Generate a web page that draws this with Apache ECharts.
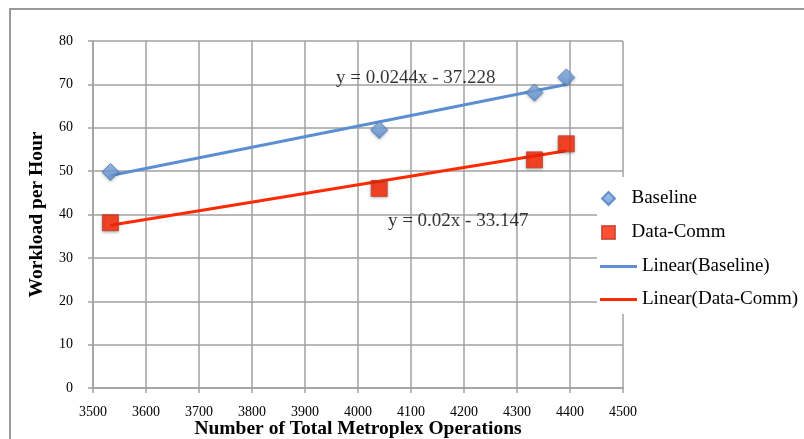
<!DOCTYPE html>
<html>
<head>
<meta charset="utf-8">
<script src="https://cdn.jsdelivr.net/npm/echarts@6/dist/echarts.min.js"></script>
<style>
html,body{margin:0;padding:0;background:#fff;}
#main{width:804px;height:439px;}
</style>
</head>
<body>
<div id="main"></div>
<script>
// ---- data ----
const seriesNames = ['Baseline', 'Data-Comm'];
const trendNames = ['Linear(Baseline)', 'Linear(Data-Comm)'];
const operations = [3533, 4040, 4333, 4393];
const baselineWorkload = [49.8, 59.5, 68.1, 71.6];
const dataCommWorkload = [38.1, 46.0, 52.6, 56.3];
// trendline coefficients as printed on the chart
const trendSlopes = [0.0244, 0.02];
const trendIntercepts = [-37.228, -33.147];
const trendLabels = ['y = 0.0244x - 37.228', 'y = 0.02x - 33.147'];
const trendLabelAnchors = [[4109, 71.4], [4189, 38.6]];
const xTicks = {min: 3500, max: 4500, interval: 100};
const yTicks = {min: 0, max: 80, interval: 10};

const FONT = '"Liberation Serif", "Times New Roman", serif';
const blue = '#5b8fd2';
const red = '#ff2a00';

function pairs(xs, ys) { return xs.map((x, i) => [x, ys[i]]); }
function trendData(k) {
  const xmin = Math.min(...operations), xmax = Math.max(...operations);
  return [xmin, xmax].map(x => [x, trendSlopes[k] * x + trendIntercepts[k]]);
}

const chart = echarts.init(document.getElementById('main'), null, {renderer: 'canvas'});
chart.setOption({
  backgroundColor: '#fff',
  animation: false,
  textStyle: {fontFamily: FONT},
  graphic: [
    {type: 'rect', z: -10, shape: {x: 10, y: 9, width: 900, height: 500},
     style: {fill: 'none', stroke: '#9a9a9a', lineWidth: 2}},
    {type: 'rect', z: 3, shape: {x: 597, y: 177, width: 207, height: 137},
     style: {fill: '#fff'}}
  ],
  grid: {left: 93, right: 181, top: 41, bottom: 51, containLabel: false, outerBoundsMode: 'none'},
  xAxis: {
    type: 'value', min: xTicks.min, max: xTicks.max, interval: xTicks.interval,
    name: 'Number of Total Metroplex Operations', nameLocation: 'middle', nameGap: 31,
    nameMoveOverlap: false,
    nameTextStyle: {fontFamily: FONT, fontWeight: 'bold', fontSize: 19.5, color: '#000'},
    axisLine: {show: true, lineStyle: {color: '#a0a0a0', width: 1.5}},
    axisTick: {show: true, length: 5, lineStyle: {color: '#a0a0a0', width: 1.5}},
    axisLabel: {fontFamily: FONT, fontSize: 14, color: '#000', margin: 17,
                formatter: v => String(v)},
    splitLine: {show: true, lineStyle: {color: '#a0a0a0', width: 1.5}}
  },
  yAxis: {
    type: 'value', min: yTicks.min, max: yTicks.max, interval: yTicks.interval,
    name: 'Workload per Hour', nameLocation: 'middle', nameGap: 46,
    nameMoveOverlap: false,
    nameTextStyle: {fontFamily: FONT, fontWeight: 'bold', fontSize: 19.5, color: '#000'},
    axisLine: {show: true, lineStyle: {color: '#a0a0a0', width: 1.5}},
    axisTick: {show: true, length: 5, lineStyle: {color: '#a0a0a0', width: 1.5}},
    axisLabel: {fontFamily: FONT, fontSize: 14, color: '#000', margin: 20},
    splitLine: {show: true, lineStyle: {color: '#a0a0a0', width: 1.5}}
  },
  legend: [
    {
      orient: 'vertical', left: 601, top: 189, padding: 0, itemGap: 15,
      itemWidth: 36, itemHeight: 13, z: 5,
      textStyle: {fontFamily: FONT, fontSize: 19, color: '#000'},
      data: [
        {name: seriesNames[0], icon: 'path://M0,-1L1,0L0,1L-1,0Z'},
        {name: seriesNames[1], icon: 'path://M0,0H1V1H0Z'}
      ]
    },
    {
      orient: 'vertical', left: 600, top: 257, padding: 0, itemGap: 14,
      itemWidth: 37, itemHeight: 3, z: 5,
      textStyle: {fontFamily: FONT, fontSize: 19, color: '#000'},
      data: trendNames.map(n => ({name: n, icon: 'rect'}))
    }
  ],
  series: [
    {
      name: trendNames[0], type: 'line', data: trendData(0), symbol: 'none', z: 2,
      lineStyle: {color: blue, width: 3}, itemStyle: {color: blue}
    },
    {
      name: trendNames[1], type: 'line', data: trendData(1), symbol: 'none', z: 2,
      lineStyle: {color: red, width: 3}, itemStyle: {color: red}
    },
    {
      name: seriesNames[0], type: 'scatter', data: pairs(operations, baselineWorkload),
      symbol: 'diamond', symbolSize: [17, 17], z: 4,
      itemStyle: {
        color: new echarts.graphic.LinearGradient(0, 0, 0, 1, [
          {offset: 0, color: '#8fb6e8'}, {offset: 1, color: '#5a8fd4'}
        ]),
        borderColor: '#4a7dbf', borderWidth: 1,
        shadowBlur: 3, shadowColor: 'rgba(0,0,0,0.35)', shadowOffsetY: 1
      }
    },
    {
      name: seriesNames[1], type: 'scatter', data: pairs(operations, dataCommWorkload),
      symbol: 'rect', symbolSize: [16, 16], z: 4,
      itemStyle: {
        color: '#ff2600', borderColor: '#c8402e', borderWidth: 1,
        shadowBlur: 3, shadowColor: 'rgba(0,0,0,0.4)', shadowOffsetY: 1
      }
    },
    {
      name: 'trend-labels', type: 'scatter', silent: true, z: 6,
      symbolSize: 0,
      data: trendLabelAnchors.map((p, i) => ({value: p, label: {formatter: trendLabels[i]}})),
      label: {show: true, position: 'inside', fontFamily: FONT, fontSize: 19, color: '#000'}
    }
  ]
});
</script>
</body>
</html>
